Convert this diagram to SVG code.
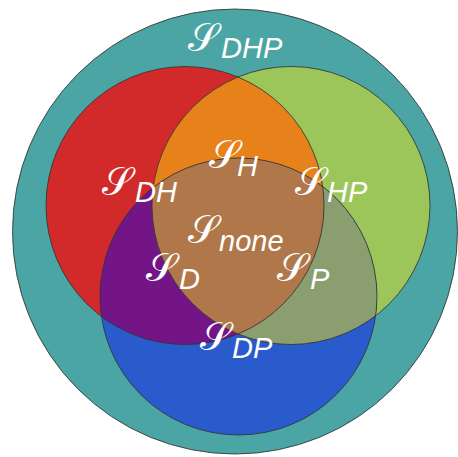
<svg xmlns="http://www.w3.org/2000/svg" width="458" height="457" viewBox="0 0 458 457">
<style>
.edge{stroke:#333;stroke-width:1;fill:none;stroke-opacity:0.85}
.lbl{fill:#fff}
.S{font-family:"DejaVu Sans","DejaVu Serif","Noto Sans",sans-serif;font-size:39px}
.sub{font-family:"Liberation Sans",Arial,sans-serif;font-style:italic;font-size:29px}
</style>
<defs>
<clipPath id="cR"><circle cx="185" cy="205.5" r="139"/></clipPath>
<clipPath id="cG"><circle cx="291" cy="205.5" r="139"/></clipPath>
<clipPath id="cRG" clip-path="url(#cR)"><circle cx="291" cy="205.5" r="139"/></clipPath>
</defs>
<g id="outer"><circle cx="235" cy="231.5" r="222.5" fill="#4CA5A5"/></g>
<g id="regions">
<circle cx="185" cy="205.5" r="139" fill="#D22A2A"/>
<circle cx="291" cy="205.5" r="139" fill="#9CC65A"/>
<circle cx="238.5" cy="296.5" r="138.5" fill="#2A5BCC"/>
<circle cx="291" cy="205.5" r="139" fill="#E68219" clip-path="url(#cR)"/>
<circle cx="238.5" cy="296.5" r="138.5" fill="#731586" clip-path="url(#cR)"/>
<circle cx="238.5" cy="296.5" r="138.5" fill="#8A9E6F" clip-path="url(#cG)"/>
<circle cx="238.5" cy="296.5" r="138.5" fill="#B0774B" clip-path="url(#cRG)"/>
</g>
<g id="outlines">
<circle class="edge" cx="235" cy="231.5" r="222.5"/>
<circle class="edge" cx="185" cy="205.5" r="139"/>
<circle class="edge" cx="291" cy="205.5" r="139"/>
<circle class="edge" cx="238.5" cy="296.5" r="138.5"/>
</g>
<g id="labels" class="lbl">
<g id="lDHP"><text class="S" x="188" y="51">𝒮</text><text class="sub" x="221" y="58">DHP</text></g>
<g id="lH"><text class="S" x="209" y="168">𝒮</text><text class="sub" x="237" y="176">H</text></g>
<g id="lDH"><text class="S" x="102" y="195">𝒮</text><text class="sub" x="135" y="202">DH</text></g>
<g id="lHP"><text class="S" x="295" y="195">𝒮</text><text class="sub" x="327" y="202">HP</text></g>
<g id="lnone"><text class="S" x="188" y="243">𝒮</text><text class="sub" x="219" y="251">none</text></g>
<g id="lD"><text class="S" x="146" y="281">𝒮</text><text class="sub" x="179" y="289">D</text></g>
<g id="lP"><text class="S" x="277" y="281">𝒮</text><text class="sub" x="310" y="289">P</text></g>
<g id="lDP"><text class="S" x="200" y="350">𝒮</text><text class="sub" x="232" y="358">DP</text></g>
</g>
</svg>
